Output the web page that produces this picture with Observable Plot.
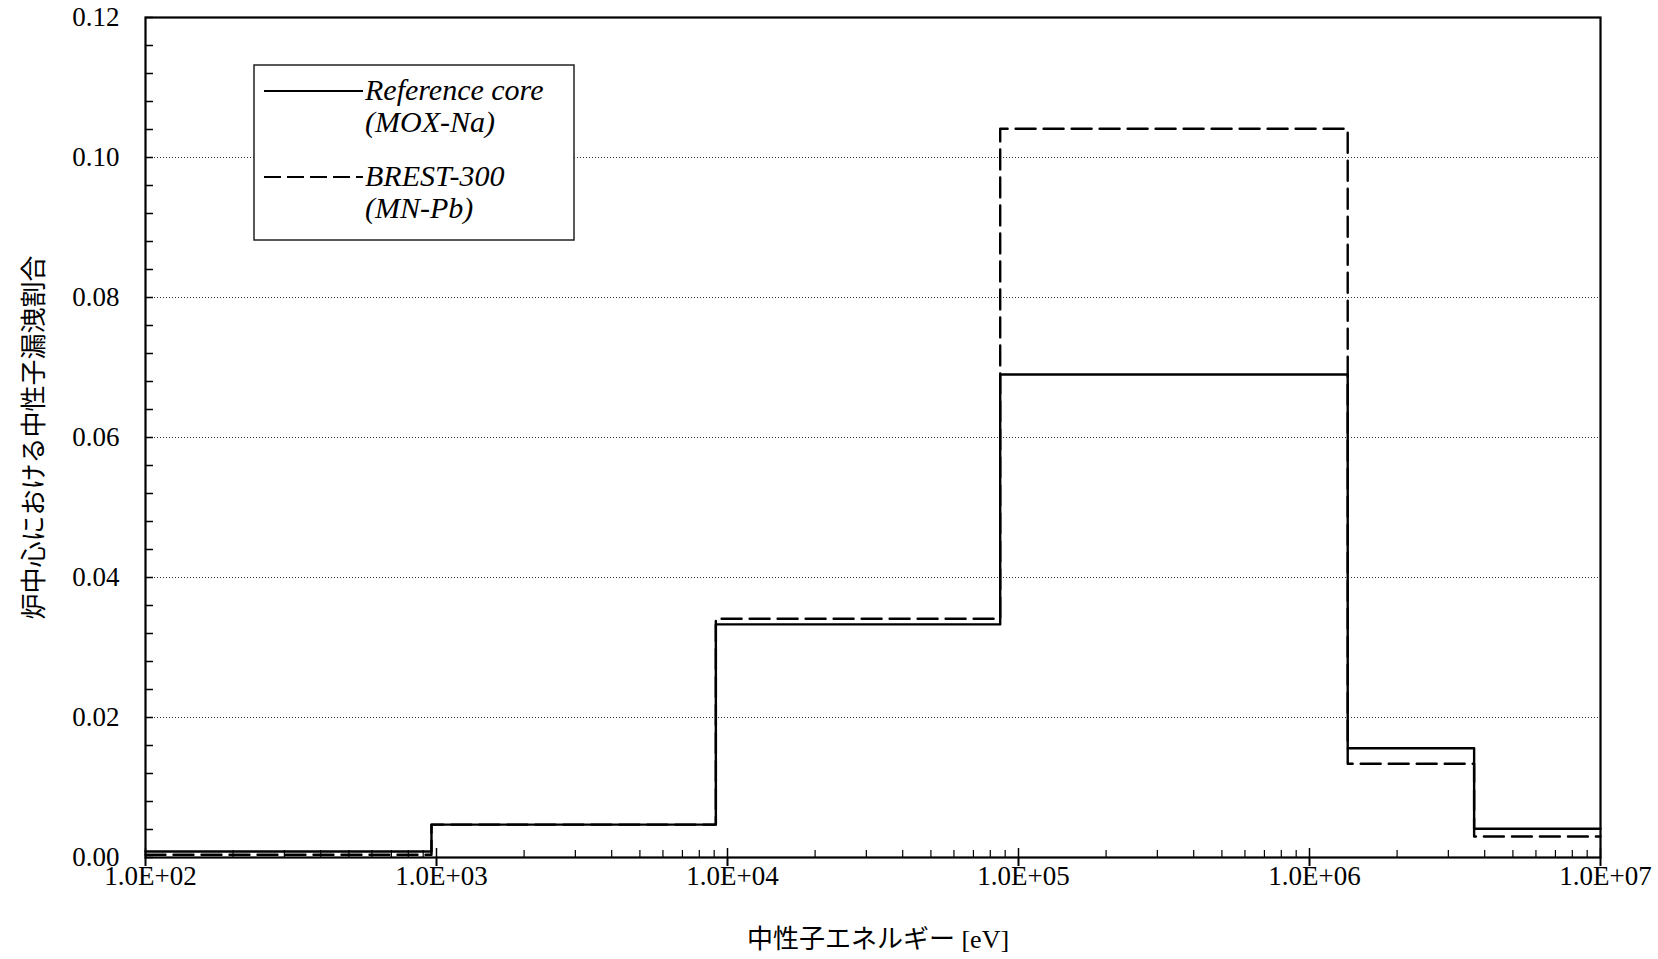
<!DOCTYPE html>
<html>
<head>
<meta charset="utf-8">
<script src="https://cdn.jsdelivr.net/npm/d3@7"></script>
<script src="https://cdn.jsdelivr.net/npm/@observablehq/plot@0.6"></script>
<style>
  html, body { margin: 0; padding: 0; background: #fff; overflow: hidden; }
  #wrap { position: relative; width: 1658px; height: 959px; }
  #legend { position: absolute; left: 0; top: 0; pointer-events: none; }
</style>
</head>
<body>
<div id="wrap"></div>
<script>
// ---- data ----
const groupEdges = [100, 961, 9119, 86520, 1353000, 3679000, 10000000]; // eV
const referenceCore = [0.00085, 0.0047, 0.0333, 0.0690, 0.0156, 0.0041]; // MOX-Na
const brest300 = [0.0004, 0.0047, 0.0341, 0.1041, 0.0134, 0.0030];       // MN-Pb

const seriesNames = ["Reference core\n(MOX-Na)", "BREST-300\n(MN-Pb)"];

const yTicks = [0, 0.02, 0.04, 0.06, 0.08, 0.10, 0.12];
const yTickLabels = ["0.00", "0.02", "0.04", "0.06", "0.08", "0.10", "0.12"];
const yGrid = [0.02, 0.04, 0.06, 0.08, 0.10];
const xTicks = [1e2, 1e3, 1e4, 1e5, 1e6, 1e7];
const xTickLabels = ["1.0E+02", "1.0E+03", "1.0E+04", "1.0E+05", "1.0E+06", "1.0E+07"];
const xTitle = "中性子エネルギー [eV]";
const yTitle = "炉中心における中性子漏洩割合";

// ---- derived tables ----
const stepPoints = (vals) => groupEdges.map((e, i) => ({x: e, y: vals[Math.min(i, vals.length - 1)]}));
const refPts = stepPoints(referenceCore);
const brestPts = stepPoints(brest300);
const yMinor = d3.range(0, 31).map(i => +(i * 0.004).toFixed(3));
const xMinor = [];
for (const dec of xTicks.slice(0, -1)) for (let k = 2; k <= 9; k++) xMinor.push(dec * k);
const yLab = new Map(yTicks.map((t, i) => [t, yTickLabels[i]]));
const xLab = new Map(xTicks.map((t, i) => [t, xTickLabels[i]]));

const serif = "'Liberation Serif', 'Times New Roman', 'Noto Sans CJK JP', serif";
const cjk = "'Liberation Serif', 'Noto Sans CJK JP', sans-serif";

const chart = Plot.plot({
  width: 1658,
  height: 959,
  marginLeft: 145,
  marginRight: 58,
  marginTop: 17,
  marginBottom: 102,
  style: {fontFamily: serif, fontSize: "27px", color: "#000", background: "#fff"},
  x: {type: "log", domain: [100, 1e7]},
  y: {domain: [0, 0.12]},
  marks: [
    Plot.gridY(yGrid, {stroke: "#000", strokeOpacity: 0.8, strokeWidth: 1, strokeDasharray: "1,2"}),
    // y labels
    Plot.axisY(yTicks, {tickSize: 0, tickPadding: 26, tickFormat: d => yLab.get(d), label: null, fontSize: 27}),
    // y ticks inward
    Plot.axisY(yMinor, {tickSize: 8, fill: "none", dx: 8, label: null, strokeWidth: 1.5}),
    // x labels
    Plot.axisX(xTicks, {tickSize: 0, tickPadding: 8, tickFormat: d => xLab.get(d), label: null, fontSize: 27, dx: 5}),
    // x decade ticks crossing the axis
    Plot.axisX(xTicks, {tickSize: 9, fill: "none", label: null, strokeWidth: 2}),
    Plot.axisX(xTicks, {tickSize: 9, fill: "none", label: null, dy: -9, strokeWidth: 1.5}),
    // x minor ticks inward
    Plot.axisX(xMinor, {tickSize: 7, fill: "none", label: null, dy: -7, strokeWidth: 1.2}),
    Plot.line(refPts, {x: "x", y: "y", curve: "step-after", stroke: "#000", strokeWidth: 2.4}),
    Plot.line(brestPts, {x: "x", y: "y", curve: "step-after", stroke: "#000", strokeWidth: 2.4, strokeDasharray: "20,8"}),
    Plot.frame({stroke: "#000", strokeWidth: 2.2}),
    Plot.text([xTitle], {frameAnchor: "bottom", dy: 90, dx: 5, textAnchor: "middle", text: d => d, fontSize: 26, fontFamily: cjk}),
    Plot.text([yTitle], {frameAnchor: "left", dx: -111, rotate: -90, textAnchor: "middle", text: d => d, fontSize: 26, fontFamily: "'Noto Sans CJK JP', sans-serif"})
  ]
});
const wrap = document.getElementById("wrap");
wrap.appendChild(chart);

// ---- legend overlay ----
const lg = d3.select(wrap).append("svg").attr("id", "legend").attr("width", 1658).attr("height", 959);
const box = {x: 254, y: 65, w: 320, h: 175};
lg.append("rect").attr("x", box.x).attr("y", box.y).attr("width", box.w).attr("height", box.h)
  .attr("fill", "#fff").attr("stroke", "#222").attr("stroke-width", 1.5);
const entries = [
  {name: seriesNames[0], dash: null, y: 91},
  {name: seriesNames[1], dash: "17,6", y: 177}
];
for (const e of entries) {
  const ln = lg.append("line").attr("x1", 264).attr("x2", 363).attr("y1", e.y).attr("y2", e.y)
    .attr("stroke", "#000").attr("stroke-width", 2.2);
  if (e.dash) ln.attr("stroke-dasharray", e.dash);
  e.name.split("\n").forEach((s, i) =>
    lg.append("text").attr("x", 365).attr("y", e.y + 9 + i * 32)
      .attr("font-family", serif).attr("font-style", "italic").attr("font-size", 30).text(s));
}
</script>
</body>
</html>
